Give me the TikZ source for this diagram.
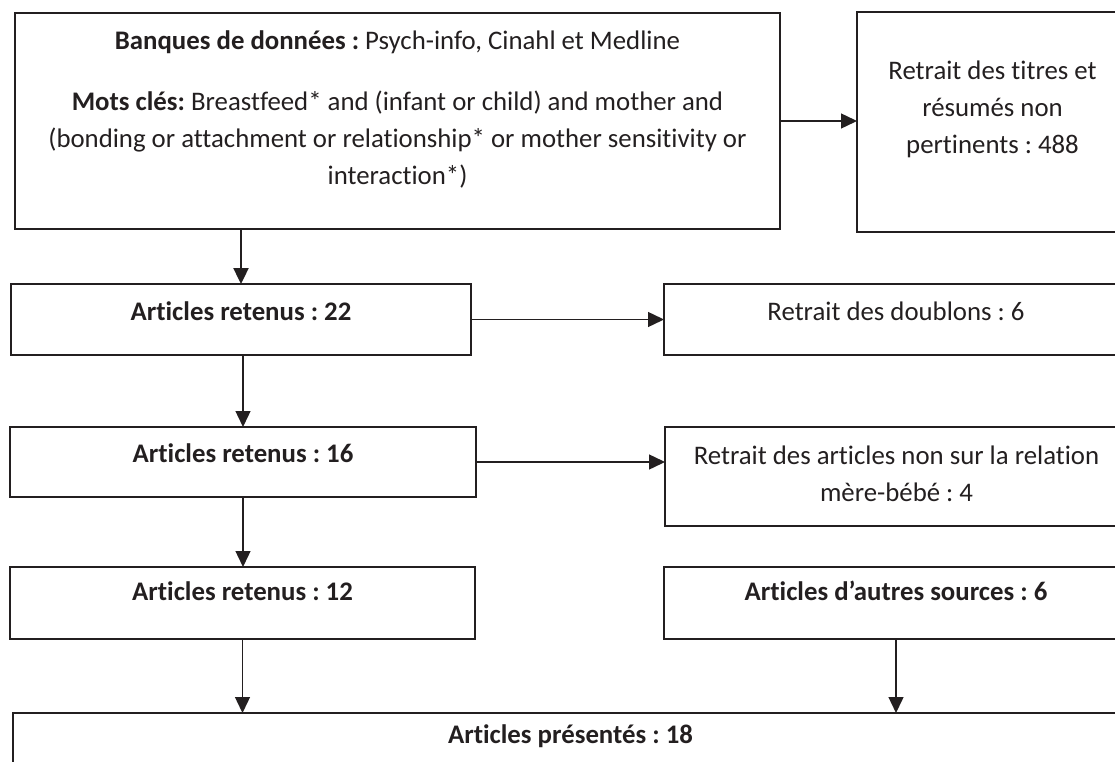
\documentclass[tikz,border=0pt]{standalone}
\usepackage{fontspec}
\setmainfont{Carlito}[Ligatures={NoCommon}]
\usetikzlibrary{arrows.meta}
\definecolor{ink}{HTML}{231F20}
\frenchspacing
\begin{document}
\begin{tikzpicture}[x=1pt,y=-1pt,
  box/.style={draw=ink, line width=2pt, rectangle, inner sep=0pt, outer sep=0pt},
  txt/.style={anchor=base, inner sep=0pt, text=ink, font=\fontsize{26.8}{37}\selectfont},
  link/.style={draw=ink, line width=1.4pt, -{Triangle[length=16pt,width=15pt]}},
]
\path[use as bounding box, clip] (0,0) rectangle (1115,762);

% boxes
\node[box, minimum width=765pt, minimum height=216pt] (db)   at (397.5,121) {};
\node[box, minimum width=271pt, minimum height=220pt] (tr)   at (992.5,122) {};
\node[box, minimum width=460pt, minimum height=71pt]  (r22)  at (241,319.5) {};
\node[box, minimum width=464pt, minimum height=71pt]  (dbl)  at (896,319.5) {};
\node[box, minimum width=466pt, minimum height=70pt]  (r16)  at (243,462) {};
\node[box, minimum width=463pt, minimum height=99pt]  (mb)   at (896.5,476.5) {};
\node[box, minimum width=465pt, minimum height=72pt]  (r12)  at (242.5,603) {};
\node[box, minimum width=464pt, minimum height=72pt]  (src)  at (896,603) {};
\node[box, minimum width=1115pt, minimum height=87pt] (pres) at (570.5,756.5) {};

% texts
\node[txt] (db1) at (397.5,50)  {\textbf{Banques de données :} Psych-info, Cinahl et Medline};
\node[txt] (db2) at (397.5,111) {\textbf{Mots clés:} Breastfeed* and (infant or child) and mother and};
\node[txt] (db3) at (397.5,148) {(bonding or attachment or relationship* or mother sensitivity or};
\node[txt] (db4) at (397.5,185) {interaction*)};

\node[txt] (tr1) at (992.5,80)  {Retrait des titres et};
\node[txt] (tr2) at (992.5,117) {résumés non};
\node[txt] (tr3) at (992.5,154) {pertinents : 488};

\node[txt] (t22)  at (241,320)   {\textbf{Articles retenus : 22}};
\node[txt] (tdbl) at (896,320)   {Retrait des doublons : 6};
\node[txt] (t16)  at (243,462)   {\textbf{Articles retenus : 16}};
\node[txt] (mb1)  at (896.5,464) {Retrait des articles non sur la relation};
\node[txt] (mb2)  at (896.5,501) {mère-bébé : 4};
\node[txt] (t12)  at (242.5,600) {\textbf{Articles retenus : 12}};
\node[txt] (tsrc) at (896,600)   {\textbf{Articles d’autres sources : 6}};
\node[txt] (tpr)  at (570.5,743) {\textbf{Articles présentés : 18}};

% connectors
\draw[link] (db.east) -- (tr.west |- db.east);
\draw[link, line width=2.4pt] (db.south -| r22.north) -- (r22.north);
\draw[link] (r22.east) -- (dbl.west);
\draw[link] (r16.north |- r22.south) -- (r16.north);
\draw[link] (r16.east) -- (mb.west |- r16.east);
\draw[link] (r16.south) -- (r16.south |- r12.north);
\draw[link] (r12.south) -- (r12.south |- pres.north);
\draw[link] (src.south) -- (src.south |- pres.north);
\end{tikzpicture}
\end{document}
